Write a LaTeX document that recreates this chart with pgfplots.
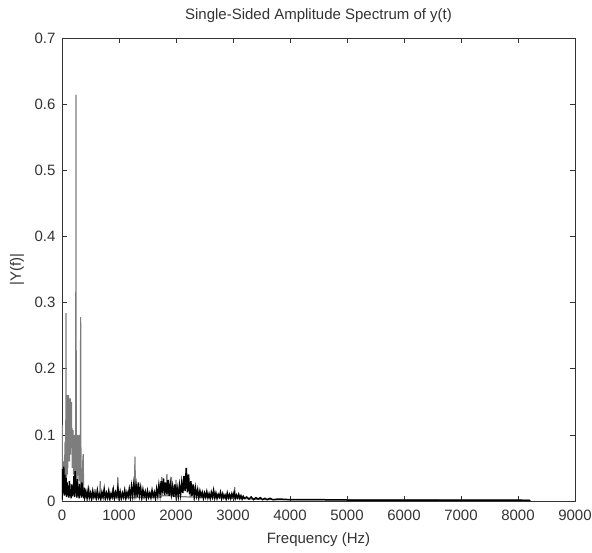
\documentclass[border=0pt]{standalone}
\usepackage{pgfplots}
\pgfplotsset{compat=1.18}
\usepackage{fontspec}
\setmainfont{Liberation Sans}
\definecolor{spgray}{RGB}{125,125,125}
\begin{document}
\begin{tikzpicture}[font=\fontsize{15}{17}\selectfont]
\useasboundingbox (-62pt,-52pt) rectangle (530pt,501pt);
\begin{axis}[
  scale only axis, width=513pt, height=463pt,
  xmin=0, xmax=9000, ymin=0, ymax=0.7,
  xtick={0,1000,...,9000}, ytick={0,0.1,...,0.7},
  yticklabels={0,0.1,0.2,0.3,0.4,0.5,0.6,0.7},
  /pgf/number format/1000 sep={},
  /pgf/number format/assume math mode=true,
  tick align=inside, tick pos=both, major tick length=5pt,
  axis line style={black!80, line width=0.9pt},
  tick style={black!80, line width=0.7pt},
  title={Single-Sided Amplitude Spectrum of y(t)},
  xlabel={Frequency (Hz)}, ylabel={|Y(f)|},
  title style={at={(axis description cs:0.5,1.0346)}, anchor=center},
  xlabel style={at={(axis description cs:0.5,-0.0842)}, anchor=center},
  ylabel style={at={(axis description cs:-0.0877,0.5)}, anchor=center, rotate=0},
  xticklabel style={yshift=-5pt},
  yticklabel style={xshift=-3pt},
  ticklabel style={text=black!80},
  label style={text=black!80},
  title style={text=black!80},
]
\addplot[spgray, line width=1.2pt] coordinates {
(0,0.0)(4,0.115)(10,0.02)(25,0.06)(40,0.03)(55,0.09)(66,0.02)(70,0.284)(76,0.02)(85,0.14)(92,0.04)(95,0.16)(100,0.05)(105,0.158)(110,0.06)(115,0.16)(120,0.07)(125,0.155)(130,0.06)(135,0.155)(140,0.08)(145,0.155)(150,0.07)(155,0.15)(160,0.09)(165,0.15)(170,0.08)(175,0.11)(180,0.05)(185,0.105)(190,0.06)(195,0.107)(200,0.04)(205,0.1)(210,0.05)(215,0.1)(225,0.03)(235,0.08)(241,0.02)(245,0.614)(250,0.02)(260,0.09)(265,0.04)(270,0.1)(280,0.03)(290,0.09)(295,0.04)(300,0.1)(310,0.03)(316,0.06)(322,0.02)(327,0.278)(333,0.02)(345,0.05)(355,0.02)(365,0.06)(372,0.071)(378,0.02)(390,0.01)(410,0.005)
(460,0.006)(470,0.022)(480,0.005)(560,0.005)(580,0.018)(590,0.005)(660,0.005)(670,0.03)(680,0.005)(880,0.005)(890,0.02)(900,0.005)(970,0.005)(980,0.036)(990,0.005)(1270,0.005)(1280,0.067)(1290,0.005)
(1740,0.006)(1750,0.036)(1760,0.008)(1830,0.008)(1840,0.041)(1850,0.008)(1910,0.008)(1920,0.036)(1930,0.008)(1990,0.007)(2000,0.032)(2010,0.007)(2250,0.006)(2260,0.03)(2270,0.006)(3020,0.004)(3030,0.021)(3040,0.004)(3300,0.003)(3700,0.002)(8200,0.001)(8210,0)
};
\addplot[black, line width=1.5pt] coordinates {
(0,0.002)(10,0.048)(20,0.012)(30,0.052)(40,0.008)(50,0.040)(60,0.010)(70,0.035)(80,0.006)(90,0.028)(100,0.009)(110,0.022)(120,0.005)(130,0.030)(140,0.008)(150,0.018)(160,0.004)(170,0.025)(180,0.007)(190,0.020)(200,0.010)(210,0.038)(220,0.006)(230,0.045)(240,0.012)(250,0.030)(260,0.005)(270,0.033)(280,0.008)(290,0.022)(300,0.004)(310,0.026)(320,0.009)(330,0.018)(340,0.005)(350,0.028)(360,0.007)(370,0.015)(380,0.004)(390,0.020)(400,0.006)
(420,0.014)(440,0.004)(460,0.017)(480,0.005)(500,0.012)(520,0.003)(540,0.015)(560,0.006)(580,0.011)(600,0.004)(620,0.016)(640,0.005)(660,0.010)(680,0.003)(700,0.013)(720,0.006)(740,0.018)(760,0.004)(780,0.012)(800,0.005)(820,0.015)(840,0.003)(860,0.011)(880,0.006)(900,0.017)(920,0.004)(940,0.013)(960,0.007)(980,0.020)(1000,0.005)
(1020,0.014)(1040,0.004)(1060,0.012)(1080,0.006)(1100,0.016)(1120,0.004)(1140,0.013)(1160,0.007)(1180,0.018)(1200,0.005)(1220,0.022)(1240,0.008)(1260,0.026)(1280,0.010)(1300,0.024)(1320,0.006)(1340,0.028)(1360,0.009)(1380,0.020)(1400,0.005)(1420,0.017)(1440,0.007)(1460,0.014)(1480,0.004)(1500,0.015)(1520,0.006)(1540,0.012)(1560,0.005)(1580,0.016)(1600,0.007)(1620,0.013)(1640,0.004)(1660,0.018)(1680,0.008)(1700,0.024)(1720,0.010)(1740,0.030)(1760,0.012)(1780,0.034)(1800,0.009)(1820,0.028)(1840,0.011)(1860,0.032)(1880,0.008)(1900,0.026)(1920,0.010)(1940,0.022)(1960,0.006)(1980,0.025)(2000,0.009)
(2020,0.020)(2040,0.007)(2060,0.024)(2080,0.010)(2100,0.028)(2120,0.012)(2140,0.038)(2160,0.015)(2180,0.050)(2200,0.013)(2220,0.040)(2240,0.010)(2260,0.030)(2280,0.008)(2300,0.025)(2320,0.006)(2340,0.020)(2360,0.008)(2380,0.017)(2400,0.005)(2420,0.015)(2440,0.007)(2460,0.013)(2480,0.004)(2500,0.012)(2520,0.006)(2540,0.014)(2560,0.005)(2580,0.011)(2600,0.004)(2620,0.013)(2640,0.006)(2660,0.016)(2680,0.005)(2700,0.012)(2720,0.004)(2740,0.010)(2760,0.006)(2780,0.013)(2800,0.004)(2820,0.011)(2840,0.005)(2860,0.009)(2880,0.003)(2900,0.012)(2920,0.005)(2940,0.010)(2960,0.004)(2980,0.011)(3000,0.006)
(3020,0.013)(3040,0.004)(3060,0.009)(3080,0.005)(3100,0.010)(3120,0.004)(3140,0.008)(3160,0.003)(3180,0.007)(3200,0.004)(3240,0.006)(3280,0.003)(3320,0.006)(3360,0.002)(3400,0.005)(3440,0.003)(3480,0.005)(3520,0.002)(3560,0.004)(3600,0.002)(3650,0.004)(3700,0.002)(3800,0.003)(4000,0.002)(4500,0.002)(5000,0.0015)(6000,0.0015)(7000,0.0012)(8000,0.0012)(8200,0.001)(8210,0)
};
\end{axis}
\end{tikzpicture}
\end{document}
